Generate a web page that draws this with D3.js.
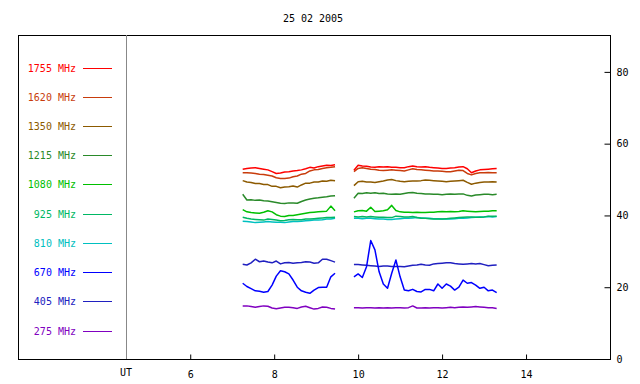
<!DOCTYPE html>
<html>
<head>
<meta charset="utf-8">
<script src="https://cdn.jsdelivr.net/npm/d3@7"></script>
<style>
    body { margin: 0; background: #fff; }
    text { font-family: "DejaVu Sans Mono", monospace; font-size: 10px; }
</style>
</head>
<body>
<div id="radio-graph"></div>
<script>
/* Chart data: UT hours and flux per frequency (two observing runs) */
const titleText = "25 02 2005";

const timesUT = [7.25, 7.35, 7.45, 7.55, 7.65, 7.75, 7.85, 7.95, 8.05, 8.15, 8.25, 8.35,
    8.45, 8.55, 8.65, 8.75, 8.85, 8.95, 9.05, 9.15, 9.25, 9.35, 9.45,
    9.9, 10.0, 10.1, 10.2, 10.3, 10.4, 10.5, 10.6, 10.7, 10.8, 10.9, 11.0, 11.1, 11.2,
    11.3, 11.4, 11.5, 11.6, 11.7, 11.8, 11.9, 12.0, 12.1, 12.2, 12.3, 12.4, 12.5, 12.6,
    12.7, 12.8, 12.9, 13.0, 13.1, 13.2, 13.3];

const flux1755 = [52.9, 53.1, 53.2, 53.3, 53.1, 52.9, 52.7, 52.2, 51.7, 51.8, 52.1, 52.2,
    52.4, 52.5, 52.7, 53.0, 53.4, 53.2, 53.6, 53.8, 54.0, 53.9, 54.1,
    52.6, 54.0, 53.8, 53.7, 53.5, 53.4, 53.6, 53.5, 53.6, 53.4, 53.4, 53.3, 53.3, 53.6,
    53.8, 53.6, 53.5, 53.6, 53.4, 53.3, 53.2, 53.1, 53.1, 53.2, 53.3, 53.5, 53.6, 53.0,
    51.9, 52.4, 52.7, 52.8, 52.9, 53.0, 53.1];
const flux1620 = [51.9, 51.9, 51.8, 51.7, 51.5, 51.4, 51.2, 51.0, 50.5, 50.3, 50.3, 50.4,
    50.8, 51.0, 51.5, 51.7, 52.4, 52.7, 52.8, 53.1, 53.3, 53.4, 53.6,
    52.2, 53.1, 53.3, 53.1, 52.9, 52.8, 52.6, 52.5, 52.6, 52.7, 52.6, 52.5, 52.4, 52.7,
    53.0, 52.8, 52.7, 52.6, 52.5, 52.4, 52.4, 52.3, 52.2, 52.2, 52.4, 52.6, 52.5, 51.7,
    51.3, 51.7, 51.9, 51.9, 52.0, 51.9, 51.9];
const flux1350 = [49.7, 49.3, 49.2, 48.9, 48.9, 48.6, 48.6, 48.1, 48.1, 47.7, 47.9, 48.0,
    48.2, 47.9, 48.5, 49.0, 49.0, 49.3, 49.3, 49.6, 49.5, 49.8, 49.7,
    48.3, 49.4, 49.5, 49.3, 49.3, 49.2, 49.4, 49.6, 49.9, 50.0, 49.7, 49.5, 49.4, 49.5,
    49.6, 49.6, 49.7, 49.9, 49.8, 49.7, 49.6, 49.5, 49.4, 49.5, 49.6, 49.7, 49.8, 49.2,
    48.7, 49.0, 49.2, 49.3, 49.3, 49.4, 49.3];
const flux1215 = [45.9, 44.3, 44.4, 44.2, 44.3, 44.1, 44.0, 43.8, 43.6, 43.4, 43.3, 43.5,
    43.5, 43.4, 43.9, 44.3, 44.6, 44.8, 44.9, 45.1, 45.2, 45.4, 45.5,
    44.8, 46.2, 46.1, 46.3, 46.2, 46.3, 46.1, 46.2, 46.0, 45.9, 46.0, 45.9, 46.1, 46.3,
    46.4, 46.2, 46.1, 46.0, 46.0, 45.9, 45.9, 45.8, 45.9, 46.0, 45.9, 46.0, 46.0, 45.6,
    45.4, 45.7, 45.8, 45.9, 45.9, 45.8, 45.9];
const flux1080 = [41.6, 41.0, 40.8, 40.7, 40.6, 40.9, 41.3, 41.0, 40.2, 39.8, 39.7, 40.0,
    40.0, 40.2, 40.4, 40.6, 40.8, 40.9, 41.0, 41.1, 41.2, 42.6, 41.3,
    41.0, 41.3, 41.4, 41.2, 42.3, 41.1, 41.2, 41.3, 41.6, 42.8, 41.4, 41.0, 40.9, 40.9,
    40.8, 40.9, 40.8, 40.8, 40.9, 40.9, 41.0, 41.1, 41.0, 41.1, 41.0, 41.1, 41.3, 41.2,
    41.1, 41.0, 41.1, 41.2, 41.2, 41.3, 41.3];
const flux925 = [39.5, 39.2, 39.0, 38.9, 38.8, 38.7, 39.0, 38.9, 38.7, 38.5, 38.6, 38.8,
    38.9, 38.8, 38.8, 39.0, 39.0, 39.1, 39.2, 39.3, 39.4, 39.4, 39.5,
    39.7, 39.6, 39.7, 39.6, 39.7, 39.6, 39.5, 39.5, 39.4, 39.4, 39.8, 39.7, 39.6, 39.6,
    39.7, 39.4, 39.2, 39.2, 39.1, 39.0, 39.0, 39.0, 39.1, 39.2, 39.3, 39.4, 39.5, 39.6,
    39.6, 39.5, 39.5, 39.6, 39.8, 39.8, 39.8];
const flux810 = [38.4, 38.3, 38.2, 38.0, 38.1, 38.2, 38.3, 38.2, 38.1, 38.1, 38.0, 38.2,
    38.3, 38.3, 38.4, 38.5, 38.6, 38.7, 38.7, 38.8, 39.0, 39.0, 39.2,
    39.2, 39.2, 39.1, 39.2, 39.2, 39.1, 39.0, 39.0, 38.9, 38.9, 39.0, 39.1, 39.2, 39.2,
    39.3, 39.4, 39.3, 39.2, 39.2, 39.1, 39.1, 39.0, 39.0, 39.0, 39.1, 39.2, 39.2, 39.3,
    39.4, 39.5, 39.6, 39.6, 39.7, 39.6, 39.7];
const flux670 = [21.1, 20.2, 19.6, 19.0, 18.9, 18.6, 18.8, 20.6, 23.1, 24.6, 24.3, 23.7,
    22.0, 20.0, 19.0, 18.6, 18.3, 19.2, 19.9, 20.0, 20.0, 22.9, 23.9,
    22.9, 23.7, 22.7, 25.7, 33.0, 30.4, 24.3, 20.9, 19.7, 23.9, 27.6, 22.9, 19.2, 19.0,
    19.4, 18.8, 18.7, 19.4, 19.4, 19.0, 20.9, 19.7, 20.9, 20.3, 19.2, 20.0, 22.0, 21.1,
    21.3, 20.6, 19.7, 20.0, 19.0, 19.2, 18.5];
const flux405 = [26.4, 26.2, 26.8, 27.8, 27.1, 27.3, 27.0, 26.8, 27.3, 26.5, 26.8, 26.9,
    26.7, 26.8, 26.9, 27.1, 27.0, 26.7, 26.8, 27.8, 27.8, 27.4, 27.0,
    26.3, 26.3, 26.2, 26.1, 26.0, 25.9, 25.8, 25.9, 25.9, 25.8, 25.8, 25.8, 25.7, 25.9,
    26.1, 26.2, 26.4, 26.2, 26.1, 26.5, 26.6, 26.7, 26.8, 26.8, 26.6, 26.5, 26.4, 26.5,
    26.6, 26.5, 26.6, 26.3, 26.0, 26.1, 26.2];
const flux275 = [14.8, 14.8, 14.6, 14.4, 14.6, 14.8, 14.7, 14.2, 14.0, 14.2, 14.4, 14.4,
    14.3, 14.1, 14.5, 14.7, 14.3, 13.9, 14.1, 14.5, 14.4, 14.1, 13.9,
    14.3, 14.3, 14.2, 14.3, 14.3, 14.2, 14.3, 14.2, 14.3, 14.2, 14.3, 14.3, 14.2, 14.3,
    14.8, 14.2, 14.2, 14.3, 14.2, 14.3, 14.3, 14.2, 14.3, 14.4, 14.3, 14.4, 14.5, 14.4,
    14.5, 14.6, 14.5, 14.4, 14.3, 14.3, 14.1];

const channelNames = ["1755 MHz", "1620 MHz", "1350 MHz", "1215 MHz", "1080 MHz",
    "925 MHz", "810 MHz", "670 MHz", "405 MHz", "275 MHz"];
const channelColors = ["#ff0000", "#c83c0c", "#8c5a00", "#2a8a2a", "#00c000",
    "#00b864", "#00c0c0", "#0000ff", "#2020c0", "#8000c0"];
const channelFlux = [flux1755, flux1620, flux1350, flux1215, flux1080,
    flux925, flux810, flux670, flux405, flux275];

const xTicks = [6, 8, 10, 12, 14];
const yTicks = [0, 20, 40, 60, 80];

function drawRadioGraph() {

    /* Layout */
    const width = 640, height = 384;
    const frame = { left: 18, top: 35, right: 610, bottom: 359 };
    const plotLeft = 126;

    let svg = d3.select("#radio-graph")
        .append("svg")
        .attr("width", width)
        .attr("height", height);

    let x = d3.scaleLinear().domain([4.47, 16]).range([plotLeft, frame.right]);
    let y = d3.scaleLinear().domain([0, 90]).range([frame.bottom, frame.top + 1]);

    /* Title */
    svg.append("text")
        .attr("x", 313)
        .attr("y", 22)
        .attr("text-anchor", "middle")
        .text(titleText);

    /* Outer frame and UT separator */
    svg.append("rect")
        .attr("x", frame.left + 0.5)
        .attr("y", frame.top + 0.5)
        .attr("width", frame.right - frame.left)
        .attr("height", frame.bottom - frame.top)
        .attr("fill", "none")
        .attr("stroke", "#000");

    svg.append("line")
        .attr("x1", plotLeft + 0.5).attr("x2", plotLeft + 0.5)
        .attr("y1", frame.top).attr("y2", frame.bottom)
        .attr("stroke", "#888");

    svg.append("text")
        .attr("x", plotLeft)
        .attr("y", 376)
        .attr("text-anchor", "middle")
        .text("UT");

    /* Axes (ticks pointing inwards) */
    let xAxis = svg.append("g")
        .attr("transform", "translate(0," + (frame.bottom + 0.5) + ")")
        .call(d3.axisBottom(x).tickValues(xTicks).tickSize(-5).tickPadding(11));
    xAxis.select(".domain").remove();

    let yAxis = svg.append("g")
        .attr("transform", "translate(" + (frame.right + 0.5) + ",0)")
        .call(d3.axisRight(y).tickValues(yTicks).tickSize(-6).tickPadding(6));
    yAxis.select(".domain").remove();

    svg.selectAll(".tick text")
        .style("font-family", "'DejaVu Sans Mono', monospace")
        .style("font-size", "10px");

    /* Legend on the left */
    const legendY = d3.scaleLinear().domain([0, channelNames.length - 1]).range([67.5, 330.5]);
    let legend = svg.append("g").selectAll("g")
        .data(channelNames)
        .enter().append("g")
        .attr("transform", (d, i) => "translate(0," + Math.round(legendY(i)) + ")");

    legend.append("text")
        .attr("x", 76)
        .attr("y", 4)
        .attr("text-anchor", "end")
        .attr("fill", (d, i) => channelColors[i])
        .text(d => d);

    legend.append("line")
        .attr("x1", 83).attr("x2", 112)
        .attr("y1", 0.5).attr("y2", 0.5)
        .attr("stroke", (d, i) => channelColors[i]);

    /* Split each channel where there's a gap in the time series */
    function segmentsOf(values) {
        let segs = [], cur = [];
        for (let i = 0; i < timesUT.length; i++) {
            if (i > 0 && timesUT[i] - timesUT[i - 1] > 0.2) {
                segs.push(cur);
                cur = [];
            }
            cur.push([timesUT[i], values[i]]);
        }
        segs.push(cur);
        return segs;
    }

    let line = d3.line()
        .x(d => x(d[0]))
        .y(d => y(d[1]));

    /* Draw from lowest frequency up so the high ones sit on top */
    for (let c = channelFlux.length - 1; c >= 0; c--) {
        svg.append("g")
            .selectAll("path")
            .data(segmentsOf(channelFlux[c]))
            .enter().append("path")
            .attr("d", line)
            .attr("fill", "none")
            .attr("stroke", channelColors[c])
            .attr("stroke-width", 1.5)
            .attr("stroke-linejoin", "round");
    }
}

drawRadioGraph();
</script>
</body>
</html>
